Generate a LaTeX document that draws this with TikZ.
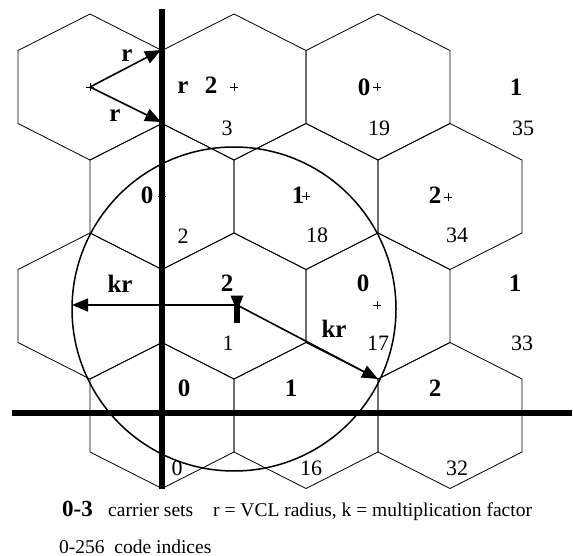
\documentclass[tikz,border=0pt]{standalone}
\usepackage{fontspec}
\setmainfont{Liberation Serif}
\usetikzlibrary{arrows.meta}
\begin{document}
\begin{tikzpicture}[x=1pt,y=-1pt,
  hexline/.style={line width=0.8pt},
  axisline/.style={line width=6pt},
  arr/.style={line width=1.6pt,-{Triangle[length=16pt,width=13pt]}},
  lab/.style={font=\fontsize{25}{27}\selectfont\bfseries, inner sep=0pt},
  idx/.style={font=\fontsize{22}{24}\selectfont, inner sep=0pt},
  txt/.style={font=\fontsize{19.5}{22}\selectfont, inner sep=0pt, anchor=base west},
  pm/.style={line width=0.5pt}
]
\useasboundingbox (0,0) rectangle (573,556);

% hexagons
\foreach \cx/\cy in {90/87, 234/87, 378/87, 162/196.5, 306/196.5, 450/196.5,
                     90/306, 234/306, 378/306, 162/415.5, 306/415.5, 450/415.5}
  \draw[hexline] ({\cx},{\cy-73}) -- ({\cx+72},{\cy-36.5}) -- ({\cx+72},{\cy+36.5})
     -- ({\cx},{\cy+73}) -- ({\cx-72},{\cy+36.5}) -- ({\cx-72},{\cy-36.5}) -- cycle;

% circle
\draw[line width=1.5pt] (234,309) circle[radius=162pt];

% axes
\draw[axisline] (162,9) -- (162,489);
\draw[axisline] (12,413) -- (572,413);

% plus marks
\foreach \px/\py in {90/87, 234/87, 377/87, 162/196, 306/196, 448/197, 377/305}
  \draw[pm] ({\px-4},\py) -- ({\px+4},\py) ({\px},{\py-4}) -- ({\px},{\py+4});

% r arrows
\coordinate (o1) at (90,87);
\coordinate (t1) at (161,50);
\coordinate (t2) at (161,122);
\draw[arr] (o1) -- (t1);
\draw[arr] (o1) -- (t2);
\node[lab] (r1) at (127,56) {r};
\node[lab] (r2) at (115,116) {r};
\node[lab] (r3) at (183,88) {r};

% kr arrows
\coordinate (c0) at (237,305);
\coordinate (kl) at (72,305);
\coordinate (kd) at (378,379);
\draw[arr] (c0) -- (kl);
\draw[arr] (c0) -- (kd);
\draw[line width=6pt] (237,302) -- (237,323);
\fill (230.5,295.5) -- (243.5,295.5) -- (240,304) -- (234,304) -- cycle;
\node[lab] (kr1) at (120,284) {kr};
\node[lab] (kr2) at (334,329) {kr};

% carrier set labels
\node[lab] (s1) at (211,85) {2};
\node[lab] (s2) at (364,87) {0};
\node[lab] (s3) at (516,87) {1};
\node[lab] (s4) at (147,195) {0};
\node[lab] (s5) at (298,195) {1};
\node[lab] (s6) at (435,195) {2};
\node[lab] (s7) at (227,283) {2};
\node[lab] (s8) at (363,283) {0};
\node[lab] (s9) at (515,283) {1};
\node[lab] (s10) at (184,388) {0};
\node[lab] (s11) at (291,388) {1};
\node[lab] (s12) at (435,388) {2};

% code indices
\node[idx] (i1) at (227,128) {3};
\node[idx] (i2) at (379,128) {19};
\node[idx] (i3) at (523,128) {35};
\node[idx] (i4) at (183,236) {2};
\node[idx] (i5) at (317,235) {18};
\node[idx] (i6) at (457,235) {34};
\node[idx] (i7) at (228,343) {1};
\node[idx] (i8) at (378,343) {17};
\node[idx] (i9) at (522,343) {33};
\node[idx] (i10) at (177,468) {0};
\node[idx] (i11) at (311,468) {16};
\node[idx] (i12) at (457,468) {32};

% legend
\node[txt, font=\fontsize{23}{25}\selectfont\bfseries] (lg1) at (62,516) {0-3};
\node[txt] (lg2) at (108,516) {carrier sets};
\node[txt] (lg3) at (213,516) {r = VCL radius, k = multiplication factor};
\node[txt] (lg4) at (59,553) {0-256\hspace{0.5em}code indices};
\end{tikzpicture}
\end{document}
